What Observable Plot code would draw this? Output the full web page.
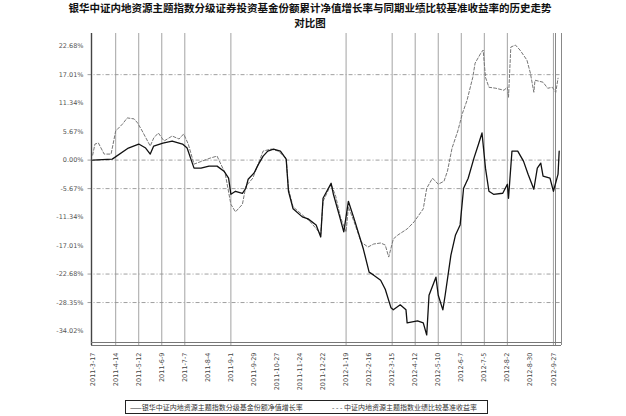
<!DOCTYPE html>
<html><head><meta charset="utf-8">
<script src="https://cdn.jsdelivr.net/npm/d3@7"></script>
<script src="https://cdn.jsdelivr.net/npm/@observablehq/plot@0.6"></script>
<style>
body{margin:0;background:#fff;font-family:"Noto Sans CJK SC",sans-serif;}
#wrap{position:relative;width:626px;height:416px;overflow:hidden;}
#title{position:absolute;left:0;top:0px;width:620px;text-align:center;font-weight:bold;font-size:10.5px;line-height:15px;color:#111;}
#chart{position:absolute;left:0;top:30px;}
#legend{position:absolute;left:125px;top:400px;width:361px;height:12px;border:1.2px solid #222;font-size:7px;line-height:12px;color:#333;white-space:nowrap;}
#legend span{position:absolute;top:0;}
</style></head><body>
<div id="wrap">
<div id="title">银华中证内地资源主题指数分级证券投资基金份额累计净值增长率与同期业绩比较基准收益率的历史走势<br>对比图</div>
<div id="chart"></div>
<div id="legend"><span style="left:4px">——银华中证内地资源主题指数分级基金份额净值增长率</span><span style="left:206px">- - - 中证内地资源主题指数业绩比较基准收益率</span></div>
</div>
<script>
// x positions are trading-day indexes; tick labels every 20 trading days
const xTickDays = [0,20,40,60,80,100,120,140,160,180,200,220,240,260,280,300,320,340,360,380,400];
const xTickLabels = ["2011-3-17","2011-4-14","2011-5-12","2011-6-9","2011-7-7","2011-8-4","2011-9-1","2011-9-29","2011-10-27","2011-11-24","2011-12-22","2012-1-19","2012-2-16","2012-3-15","2012-4-12","2012-5-10","2012-6-7","2012-7-5","2012-8-2","2012-8-30","2012-9-27"];
const xGridIdx = [1,2,3,4,6,11,13,14,15,16,17,18,20];
const yTicks = [22.68,17.01,11.34,5.67,0,-5.67,-11.34,-17.01,-22.68,-28.35,-34.02];
const yTickLabels = ["22.68%","17.01%","11.34%","5.67%","0.00%","-5.67%","-11.34%","-17.01%","-22.68%","-28.35%","-34.02%"];
const yGridIdx = [1,4,5,8,9];

const fundDay = [0,17,31,40,46,50,53,61,69,78,82,85,88,94,101,108,114,118,120,124,130,133,135,140,144,148,152,157,163,168,170,174,182,187,194,198,200,207,209,214,218,222,227,235,240,244,250,254,259,261,267,272,273,282,287,290,292,298,300,304,306,311,315,319,322,326,331,335,338,341,344,348,356,360,361,364,369,374,378,383,386,389,391,397,400,404,405];
const fundVal = [0,0.2,2.4,3.2,2.4,1.2,2.8,3.4,3.8,3.2,2.4,0.4,-1.6,-1.6,-1.2,-1.2,-2.2,-3.6,-6.8,-6.2,-6.6,-5.6,-3.8,-2.6,-0.8,0.8,1.8,2.2,1.8,0.2,-6.2,-9.7,-11.3,-11.7,-12.9,-15.3,-7.6,-4.6,-6.8,-10.9,-14.3,-8.2,-11.7,-17.7,-22.3,-22.9,-23.9,-25.7,-29.4,-29.8,-28.8,-29.8,-32.4,-32.0,-32.4,-34.8,-26.9,-23.3,-26.9,-29.8,-26.9,-18.9,-14.9,-12.9,-5.6,-3.6,0.4,3.2,5.4,-1.6,-6.2,-6.8,-6.6,-4.8,-7.6,1.8,1.8,-0.2,-2.8,-5.8,-1.6,-0.6,-3.2,-3.6,-6.2,-2.8,1.8];
const benchDay = [0,2,5,10,16,20,26,30,36,39,43,50,53,57,62,69,75,79,83,88,95,102,108,115,120,124,130,133,139,144,148,155,161,168,170,174,182,189,198,200,207,211,215,220,222,227,233,239,244,250,254,257,261,265,273,279,287,290,295,300,305,308,312,317,321,325,330,332,337,339,341,344,350,357,360,361,363,367,371,377,380,383,384,391,395,399,402,404];
const benchVal = [1.0,3.2,3.4,1.2,1.2,5.8,7.2,8.4,8.2,7.4,5.8,2.8,4.4,5.4,3.8,4.8,4.2,5.2,3.2,-0.8,-0.2,0.4,0.8,-2.6,-8.8,-10.3,-8.8,-5.2,-3.6,-0.6,1.8,2.2,1.8,0.4,-5.8,-9.3,-10.9,-12.3,-14.7,-8.2,-4.8,-7.2,-11.3,-14.3,-9.3,-12.3,-16.3,-17.3,-16.7,-16.5,-16.9,-19.3,-15.7,-14.9,-13.7,-12.3,-9.7,-5.6,-3.6,-4.8,-4.2,-2.2,2.4,5.8,9.3,11.9,16.5,19.3,21.3,21.9,16.5,14.5,14.3,13.9,14.5,12.5,22.5,22.9,21.9,19.9,17.3,13.5,15.9,15.5,14.3,14.5,13.5,16.3];

const fund = fundDay.map((d,i)=>({day:d, v:fundVal[i]}));
const bench = benchDay.map((d,i)=>({day:d, v:benchVal[i]}));
const xMin = -1, xMax = 407, yMin = -36.9, yMax = 25.2;

const chart = Plot.plot({
  width: 626, height: 372,
  marginTop: 3, marginBottom: 57, marginLeft: 91, marginRight: 65,
  style: {fontFamily: "DejaVu Sans, sans-serif", background: "#fff"},
  x: {domain: [xMin, xMax]},
  y: {domain: [yMin, yMax]},
  marks: [
    Plot.ruleY(yGridIdx.map(i=>yTicks[i]), {x1: xMin-3, x2: xMax, stroke: "#888", strokeWidth: 0.8, strokeDasharray: "4,2,1,2"}),
    Plot.ruleX(xGridIdx.map(i=>xTickDays[i]), {stroke: "#999", strokeWidth: 0.9}),
    Plot.ruleX([xMax], {stroke: "#888", strokeWidth: 1}),
    Plot.ruleX([xMax], {stroke: "#888", strokeWidth: 1, dx: -6}),
    Plot.ruleX([xMin], {stroke: "#444", strokeWidth: 1.4}),
    Plot.ruleY([yMin], {stroke: "#777", strokeWidth: 1}),
    Plot.ruleY([yMin], {stroke: "#777", strokeWidth: 1, dy: -3}),
    Plot.axisY({ticks: yTicks, tickFormat: (d,i)=>yTickLabels[i], tickSize: 0, tickPadding: 8, fontSize: 6.5, fill: "#555", label: null}),
    Plot.axisX({ticks: xTickDays, tickFormat: (d,i)=>xTickLabels[i], tickSize: 0, tickPadding: 7, tickRotate: -90, fontSize: 6.5, fill: "#444", label: null}),
    Plot.line(bench, {x: "day", y: "v", stroke: "#777", strokeWidth: 1, strokeDasharray: "3,2"}),
    Plot.line(fund, {x: "day", y: "v", stroke: "#111", strokeWidth: 1.3})
  ]
});
document.getElementById("chart").appendChild(chart);
</script>
</body></html>
